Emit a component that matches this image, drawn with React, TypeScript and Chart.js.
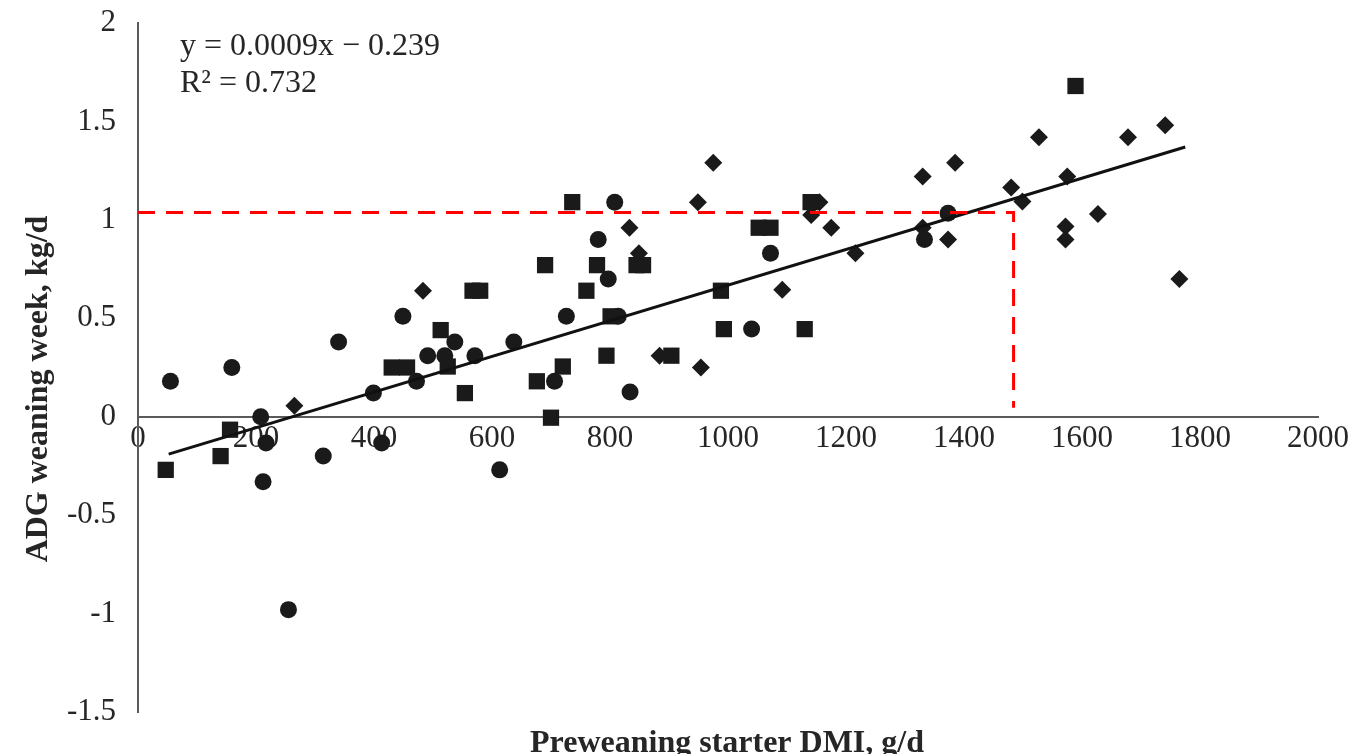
import { useEffect, useRef } from 'react';
import { Chart, registerables } from 'chart.js';

Chart.register(...registerables);

// ---- Data ----
const squareX = [47, 140, 156, 430, 456, 513, 525, 554, 567, 580, 676, 690, 700, 720, 736, 760, 778, 794, 801, 845, 856, 904, 988, 993, 1052, 1072, 1130, 1140, 1589];
const squareY = [-0.27, -0.2, -0.066, 0.25, 0.25, 0.44, 0.255, 0.12, 0.64, 0.64, 0.18, 0.77, -0.005, 0.255, 1.09, 0.64, 0.77, 0.31, 0.51, 0.77, 0.77, 0.31, 0.64, 0.445, 0.96, 0.96, 0.445, 1.09, 1.68];

const circleX = [55, 159, 208, 212, 217, 255, 314, 340, 399, 413, 449, 472, 491, 520, 537, 571, 613, 637, 706, 726, 780, 797, 808, 814, 834, 1040, 1072, 1333, 1373];
const circleY = [0.18, 0.25, 0.0, -0.33, -0.134, -0.98, -0.2, 0.38, 0.12, -0.134, 0.51, 0.18, 0.31, 0.31, 0.38, 0.31, -0.27, 0.38, 0.18, 0.51, 0.9, 0.7, 1.09, 0.51, 0.125, 0.445, 0.83, 0.9, 1.034];

const diamondX = [265, 483, 833, 849, 884, 949, 954, 975, 1092, 1141, 1155, 1175, 1216, 1330, 1330, 1373, 1385, 1480, 1499, 1527, 1572, 1572, 1575, 1627, 1678, 1741, 1765];
const diamondY = [0.056, 0.64, 0.96, 0.83, 0.31, 1.09, 0.25, 1.29, 0.645, 1.025, 1.09, 0.96, 0.83, 1.22, 0.96, 0.9, 1.29, 1.164, 1.093, 1.42, 0.966, 0.9, 1.22, 1.03, 1.42, 1.48, 0.7];

// regression line end points
const trendX = [52, 1775];
const trendY = [-0.19, 1.37];

// red dashed guide (horizontal then vertical)
const guideX = [0, 1484, 1484];
const guideY = [1.037, 1.037, 0.045];

const xTicks = [0, 200, 400, 600, 800, 1000, 1200, 1400, 1600, 1800, 2000];
const yTicks = [-1.5, -1, -0.5, 0, 0.5, 1, 1.5, 2];

const equationText = 'y = 0.0009x \u2212 0.239';
const r2Text = 'R\u00B2 = 0.732';
const xTitle = 'Preweaning starter DMI, g/d';
const yTitle = 'ADG weaning week, kg/d';

const SERIF = '"Liberation Serif", "Times New Roman", serif';
const TEXT = '#262626';
const AXIS = '#5a5a5a';
const MARK = '#1a1a1a';

const pts = (xs: number[], ys: number[]) => xs.map((x, i) => ({ x, y: ys[i] }));

const textPlugin = {
  id: 'texts',
  afterDraw(chart: any) {
    const ctx = chart.ctx as CanvasRenderingContext2D;
    ctx.save();
    ctx.fillStyle = TEXT;
    ctx.textBaseline = 'alphabetic';
    ctx.textAlign = 'left';
    ctx.font = `32px ${SERIF}`;
    ctx.fillText(equationText, 180, 55);
    ctx.fillText(r2Text, 180, 92);
    ctx.font = `bold 32px ${SERIF}`;
    ctx.textAlign = 'center';
    ctx.fillText(xTitle, 727, 752);
    ctx.translate(47, 389);
    ctx.rotate(-Math.PI / 2);
    ctx.fillText(yTitle, 0, 0);
    ctx.restore();
  },
};

export default function App() {
  const ref = useRef<HTMLCanvasElement | null>(null);

  useEffect(() => {
    if (!ref.current) return;
    const chart = new Chart(ref.current, {
      type: 'scatter',
      data: {
        datasets: [
          {
            label: 'guide',
            data: pts(guideX, guideY),
            showLine: true,
            borderColor: '#ff0000',
            borderWidth: 3,
            borderDash: [17, 11],
            pointRadius: 0,
            fill: false,
            tension: 0,
          } as any,
          {
            label: 'trend',
            data: pts(trendX, trendY),
            showLine: true,
            borderColor: '#111111',
            borderWidth: 3,
            pointRadius: 0,
            fill: false,
            tension: 0,
          } as any,
          {
            label: 'squares',
            data: pts(squareX, squareY),
            pointStyle: 'rect',
            pointRadius: 11.5,
            backgroundColor: MARK,
            borderColor: MARK,
            borderWidth: 0,
          } as any,
          {
            label: 'circles',
            data: pts(circleX, circleY),
            pointStyle: 'circle',
            pointRadius: 8.5,
            backgroundColor: MARK,
            borderColor: MARK,
            borderWidth: 0,
          } as any,
          {
            label: 'diamonds',
            data: pts(diamondX, diamondY),
            pointStyle: 'rectRot',
            pointRadius: 9,
            backgroundColor: MARK,
            borderColor: MARK,
            borderWidth: 0,
          } as any,
        ],
      },
      options: {
        responsive: false,
        animation: false,
        events: [],
        layout: { padding: { top: 23, right: 36, bottom: 42, left: 0 } },
        plugins: {
          legend: { display: false },
          tooltip: { enabled: false },
          title: { display: false },
        },
        scales: {
          x: {
            type: 'linear',
            min: 0,
            max: 2000,
            position: { y: 0 } as any,
            grid: { display: false, drawTicks: false },
            border: { display: true, color: AXIS, width: 2 },
            afterBuildTicks: (scale: any) => {
              scale.ticks = xTicks.map((v) => ({ value: v }));
            },
            afterFit: (scale: any) => {
              scale.paddingLeft = 0;
              scale.paddingRight = 0;
            },
            ticks: {
              autoSkip: false,
              maxRotation: 0,
              padding: 4,
              color: TEXT,
              font: { family: SERIF, size: 31 },
              callback: (v: any) => String(v),
            },
          },
          y: {
            type: 'linear',
            min: -1.5,
            max: 2,
            grid: { display: false, drawTicks: false },
            border: { display: true, color: AXIS, width: 2 },
            afterBuildTicks: (scale: any) => {
              scale.ticks = yTicks.map((v) => ({ value: v }));
            },
            afterFit: (scale: any) => {
              scale.width = 138;
              scale.paddingTop = 0;
              scale.paddingBottom = 0;
            },
            ticks: {
              autoSkip: false,
              padding: 22,
              color: TEXT,
              font: { family: SERIF, size: 31 },
              callback: (v: any) => String(v),
            },
          },
        },
      } as any,
      plugins: [textPlugin],
    });
    return () => chart.destroy();
  }, []);

  return (
    <div style={{ position: 'fixed', left: 0, top: 0, width: 1354, height: 754, background: '#fff' }}>
      <canvas ref={ref} width={1354} height={754} style={{ display: 'block', width: 1354, height: 754 }} />
    </div>
  );
}
